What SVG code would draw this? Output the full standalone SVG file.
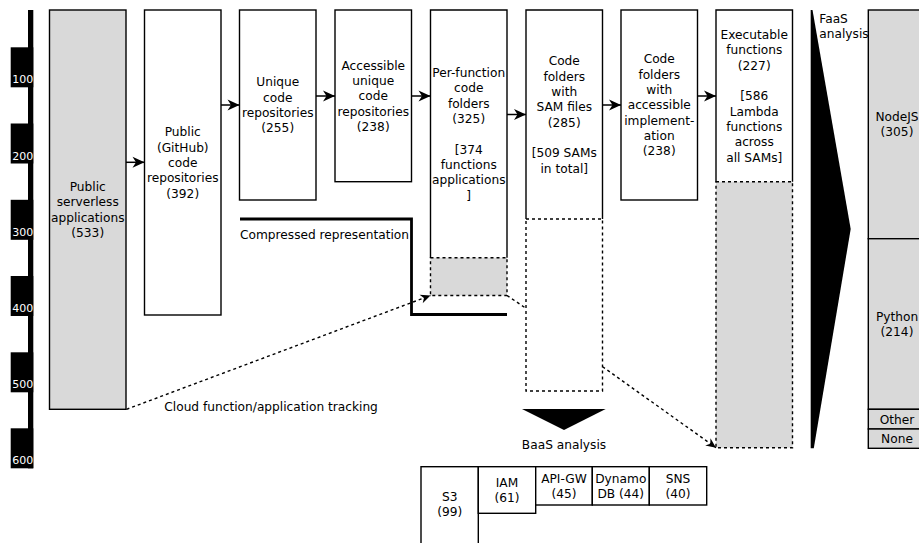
<svg xmlns="http://www.w3.org/2000/svg" width="919" height="543" viewBox="0 0 919 543">
<defs>
<style>
text{font-family:"DejaVu Sans","Liberation Sans",sans-serif;font-size:12.2px;fill:#000}
.c{text-anchor:middle}
.ax{font-size:11px;fill:#fff}
.box{fill:#fff;stroke:#000;stroke-width:1.4}
.gbox{fill:#d9d9d9;stroke:#000;stroke-width:1.4}
.side{fill:none;stroke:#000;stroke-width:1.4}
.dash{stroke:#000;stroke-width:1.4;stroke-dasharray:3 3}
.arr{fill:none;stroke:#000;stroke-width:1.5}
.darr{fill:none;stroke:#000;stroke-width:1.4;stroke-dasharray:3 3}
</style>
<marker id="ah" markerUnits="userSpaceOnUse" markerWidth="16" markerHeight="14" viewBox="-13 -7 14 14" refX="0" refY="0" orient="auto">
<path d="M0,0 L-12,-5.5 L-8.5,0 L-12,5.5 Z" fill="#000"/>
</marker>
<marker id="ahs" markerUnits="userSpaceOnUse" markerWidth="14" markerHeight="12" viewBox="-11 -6 12 12" refX="0" refY="0" orient="auto">
<path d="M0,0 L-10,-4.5 L-7,0 L-10,4.5 Z" fill="#000"/>
</marker>
</defs>

<g id="axis">
<rect x="28" y="10" width="5.3" height="458.3" fill="#000"/>
<rect x="10.7" y="47.3" width="22.6" height="40" fill="#000"/>
<rect x="10.7" y="123.5" width="22.6" height="40" fill="#000"/>
<rect x="10.7" y="199.8" width="22.6" height="40" fill="#000"/>
<rect x="10.7" y="276" width="22.6" height="40" fill="#000"/>
<rect x="10.7" y="352.3" width="22.6" height="40" fill="#000"/>
<rect x="10.7" y="428.3" width="22.6" height="40" fill="#000"/>
<text class="ax" x="12.3" y="83.3">100</text>
<text class="ax" x="12.3" y="159.5">200</text>
<text class="ax" x="12.3" y="235.8">300</text>
<text class="ax" x="12.3" y="312">400</text>
<text class="ax" x="12.3" y="388.3">500</text>
<text class="ax" x="12.3" y="464.3">600</text>
</g>

<g id="connectors">
<line class="arr" x1="126" y1="162.3" x2="144.5" y2="162.3" marker-end="url(#ah)"/>
<line class="arr" x1="221" y1="105" x2="239.5" y2="105" marker-end="url(#ah)"/>
<line class="arr" x1="316" y1="96" x2="335" y2="96" marker-end="url(#ah)"/>
<line class="arr" x1="411.5" y1="96" x2="430.5" y2="96" marker-end="url(#ah)"/>
<line class="arr" x1="507" y1="114.5" x2="526" y2="114.5" marker-end="url(#ah)"/>
<line class="arr" x1="602.5" y1="105" x2="621" y2="105" marker-end="url(#ah)"/>
<line class="arr" x1="697.5" y1="96" x2="716" y2="96" marker-end="url(#ah)"/>
<path class="darr" d="M126.5,409.3 L430.5,295.5" marker-end="url(#ahs)"/>
<path class="darr" d="M507,295.5 L526,308.3"/>
<path class="darr" d="M602.5,366.7 L716,447.7" marker-end="url(#ahs)"/>
<path d="M240,219 H411.5 V314.5 H507" fill="none" stroke="#000" stroke-width="2.8"/>
<text x="240" y="239.4">Compressed representation</text>
<text x="164.3" y="411.2">Cloud function/application tracking</text>
</g>

<g id="n1">
<rect class="gbox" x="49.5" y="10" width="76.5" height="399.3"/>
<text class="c" x="87.75" y="191">Public</text>
<text class="c" x="87.75" y="206.4">serverless</text>
<text class="c" x="87.75" y="221.7">applications</text>
<text class="c" x="87.75" y="237">(533)</text>
</g>

<g id="n2">
<rect class="box" x="144.5" y="10" width="76.5" height="305"/>
<text class="c" x="182.75" y="136.2">Public</text>
<text class="c" x="182.75" y="151.6">(GitHub)</text>
<text class="c" x="182.75" y="166.9">code</text>
<text class="c" x="182.75" y="182.2">repositories</text>
<text class="c" x="182.75" y="197.6">(392)</text>
</g>

<g id="n3">
<rect class="box" x="239.5" y="10" width="76.5" height="190"/>
<text class="c" x="277.75" y="86.4">Unique</text>
<text class="c" x="277.75" y="101.7">code</text>
<text class="c" x="277.75" y="117.1">repositories</text>
<text class="c" x="277.75" y="132.4">(255)</text>
</g>

<g id="n4">
<rect class="box" x="335" y="10" width="76.5" height="171.7"/>
<text class="c" x="373.25" y="69.6">Accessible</text>
<text class="c" x="373.25" y="84.9">unique</text>
<text class="c" x="373.25" y="100.25">code</text>
<text class="c" x="373.25" y="115.6">repositories</text>
<text class="c" x="373.25" y="130.9">(238)</text>
</g>

<g id="n5">
<rect x="430.5" y="257.7" width="76.5" height="37.8" fill="#d9d9d9" class="dash"/>
<path class="side" d="M430.5,257.7 V10 H507 V257.7"/>
<text class="c" x="468.75" y="76.9">Per-function</text>
<text class="c" x="468.75" y="92.2">code</text>
<text class="c" x="468.75" y="107.6">folders</text>
<text class="c" x="468.75" y="122.9">(325)</text>
<text class="c" x="468.75" y="153.6">[374</text>
<text class="c" x="468.75" y="168.9">functions</text>
<text class="c" x="468.75" y="184.2">applications</text>
<text class="c" x="468.75" y="199.6">]</text>
</g>

<g id="n6">
<rect x="526" y="219" width="76.5" height="172" fill="#fff" class="dash"/>
<path class="side" d="M526,219 V10 H602.5 V219"/>
<text class="c" x="564.25" y="65.2">Code</text>
<text class="c" x="564.25" y="80.6">folders</text>
<text class="c" x="564.25" y="95.9">with</text>
<text class="c" x="564.25" y="111.2">SAM files</text>
<text class="c" x="564.25" y="126.6">(285)</text>
<text class="c" x="564.25" y="157.2">[509 SAMs</text>
<text class="c" x="564.25" y="172.6">in total]</text>
</g>

<g id="n7">
<rect class="box" x="621" y="10" width="76.5" height="190"/>
<text class="c" x="659.25" y="63.4">Code</text>
<text class="c" x="659.25" y="78.7">folders</text>
<text class="c" x="659.25" y="94.1">with</text>
<text class="c" x="659.25" y="109.4">accessible</text>
<text class="c" x="659.25" y="124.7">implement-</text>
<text class="c" x="659.25" y="140.1">ation</text>
<text class="c" x="659.25" y="155.4">(238)</text>
</g>

<g id="n8">
<rect x="716" y="181.7" width="76.5" height="266" fill="#d9d9d9" class="dash"/>
<path class="side" d="M716,181.7 V10 H792.5 V181.7"/>
<text class="c" x="754.25" y="38.9">Executable</text>
<text class="c" x="754.25" y="54.2">functions</text>
<text class="c" x="754.25" y="69.6">(227)</text>
<text class="c" x="754.25" y="100.25">[586</text>
<text class="c" x="754.25" y="115.6">Lambda</text>
<text class="c" x="754.25" y="130.9">functions</text>
<text class="c" x="754.25" y="146.2">across</text>
<text class="c" x="754.25" y="161.6">all SAMs]</text>
</g>

<g id="faas">
<polygon points="810.7,10 812.5,10 850.7,229 813.8,448.3 810.7,448.3" fill="#000"/>
<text x="819.3" y="22.7">FaaS</text>
<text x="819.3" y="37.8">analysis</text>
</g>

<g id="runtimes">
<rect class="gbox" x="868.3" y="10" width="62" height="228.7"/>
<rect class="gbox" x="868.3" y="238.7" width="62" height="170.6"/>
<rect class="gbox" x="868.3" y="409.3" width="62" height="19.7"/>
<rect class="gbox" x="868.3" y="429" width="62" height="19.3"/>
<text class="c" x="897" y="121.1">NodeJS</text>
<text class="c" x="897" y="136.4">(305)</text>
<text class="c" x="897" y="320.7">Python</text>
<text class="c" x="897" y="336">(214)</text>
<text class="c" x="897" y="423.6">Other</text>
<text class="c" x="897" y="443.4">None</text>
</g>

<g id="baas">
<polygon points="522,409 605.7,409 564,430" fill="#000"/>
<text class="c" x="564" y="448.5">BaaS analysis</text>
</g>

<g id="services">
<rect class="box" x="421" y="466.7" width="57.3" height="84"/>
<rect class="box" x="478.3" y="466.7" width="57.4" height="46.6"/>
<rect class="box" x="535.7" y="466.7" width="56.6" height="38.3"/>
<rect class="box" x="592.3" y="466.7" width="57" height="38.3"/>
<rect class="box" x="649.3" y="466.7" width="57.4" height="38.3"/>
<text class="c" x="449.7" y="501.1">S3</text>
<text class="c" x="449.7" y="516.4">(99)</text>
<text class="c" x="507" y="486.7">IAM</text>
<text class="c" x="507" y="502">(61)</text>
<text class="c" x="564" y="482.6">API-GW</text>
<text class="c" x="564" y="497.9">(45)</text>
<text class="c" x="620.8" y="482.6">Dynamo</text>
<text class="c" x="620.8" y="497.9">DB (44)</text>
<text class="c" x="678" y="482.6">SNS</text>
<text class="c" x="678" y="497.9">(40)</text>
</g>
</svg>
